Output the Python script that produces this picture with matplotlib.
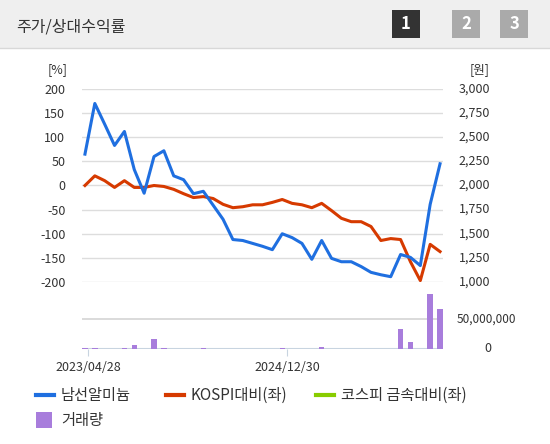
import matplotlib
matplotlib.use("Agg")
import matplotlib.pyplot as plt
import matplotlib.transforms as mtrans
from matplotlib.lines import Line2D
from matplotlib.patches import Rectangle
import numpy as np

plt.rcParams['font.family'] = ['Noto Sans CJK KR', 'DejaVu Sans']

stock = [65,170,127,83,112,33,-16,60,72,20,12,-17,-12,-41,-70,-112,-114,-120,-126,-133,
         -100,-108,-120,-153,-114,-151,-158,-158,-168,-180,-185,-189,-143,-149,-166,-39,45]
kospi = [0,20,10,-4,10,-4,-4,0,-2,-8,-17,-25,-23,-27,-39,-46,-44,-40,-40,-35,
         -29,-37,-40,-46,-37,-52,-68,-75,-75,-85,-114,-110,-112,-158,-197,-122,-137]
volume = [1.5e6,1.5e6,0,0,1.5e6,7e6,0,17e6,1.5e6,0,0,0,1.5e6,0,0,0,0,0,0,0,
          1.5e6,0,0,0,4e6,0,0,0,0,0,0,0,33e6,12e6,0,92e6,67e6]
tick_pos = [0.3, 20.5]
tick_labels = ['2023/04/28', '2024/12/30']
yl_ticks = [200,150,100,50,0,-50,-100,-150,-200]
yr_labels = ['3,000','2,750','2,500','2,250','2,000','1,750','1,500','1,250','1,000']

W, H = 550, 444
fig = plt.figure(figsize=(5.5, 4.44), dpi=100)
def fx(p): return p / W
def fy(p): return 1 - p / H

# header
fig.patches.append(Rectangle((0, fy(48)), 1, 48 / H, transform=fig.transFigure,
                             facecolor='#efefef', edgecolor='none'))
fig.add_artist(Line2D([0, 1], [fy(48), fy(48)], color='#d8d8d8', lw=1))
fig.text(fx(16), fy(27), '주가/상대수익률', fontsize=11.5, color='#333333', va='center')
for i, (x, c) in enumerate([(392, '#333333'), (452, '#aaaaaa'), (500, '#aaaaaa')]):
    fig.patches.append(Rectangle((fx(x), fy(38)), 28 / W, 28 / H, transform=fig.transFigure,
                                 facecolor=c, edgecolor='none'))
    fig.text(fx(x + 14), fy(24), str(i + 1), color='white', fontsize=12, fontweight='bold',
             ha='center', va='center')

x = np.arange(len(stock))
xl = (-0.3, len(stock) - 0.7)
# main axes
ax = fig.add_axes([fx(82), fy(282), (443 - 82) / W, (282 - 89) / H])
for v in yl_ticks:
    ax.axhline(v, color='#dddddd', lw=1, zorder=0)
ax.plot(x, stock, color='#1f6fe0', lw=2.2, zorder=3)
ax.plot(x, kospi, color='#d63a00', lw=2.2, zorder=2)
ax.set_ylim(-200, 200)
ax.set_xlim(*xl)
ax.set_yticks(yl_ticks)
ax.set_yticklabels([str(v) for v in yl_ticks], fontsize=9, color='#333333')
ax.tick_params(axis='y', length=0, pad=12)
ax.set_xticks([])
for s in ax.spines.values():
    s.set_visible(False)
for v, lab in zip(yl_ticks, yr_labels):
    ax.text(1.13, v, lab, transform=ax.get_yaxis_transform(), ha='right', va='center',
            fontsize=9, color='#333333')
fig.text(fx(58), fy(70), '[%]', fontsize=9, color='#333333', ha='center', va='center')
fig.text(fx(480), fy(70), '[원]', fontsize=9, color='#333333', ha='center', va='center')

# volume axes
vax = fig.add_axes([fx(82), fy(349), (443 - 82) / W, (349 - 290) / H])
vax.set_facecolor('none')
vax.plot(xl, [50e6, 50e6], color='#d4d4d4', lw=1.2, zorder=1)
vax.plot(xl, [0, 0], color='#c8d4e0', lw=1.5, zorder=1)
vax.bar(x, volume, width=0.55, color='#a87ddc', zorder=2)
vax.set_xlim(*xl)
vax.set_ylim(0, 50e6 * 59 / 30)
vax.set_yticks([])
vax.set_xticks(tick_pos)
vax.set_xticklabels(tick_labels, fontsize=9, color='#333333')
vax.tick_params(axis='x', length=5, color='#c8d4e0')
for s in vax.spines.values():
    s.set_visible(False)
tr = mtrans.blended_transform_factory(fig.transFigure, vax.transData)
vax.text(fx(457), 50e6, '50,000,000', transform=tr, ha='left', va='center',
         fontsize=8.5, color='#333333')
vax.text(fx(491), 0, '0', transform=tr, ha='right', va='center', fontsize=9, color='#333333')

# legend
for (x0, c, lab) in [(36, '#1f6fe0', '남선알미늄'), (166, '#d63a00', 'KOSPI대비(좌)'),
                     (316, '#88cc00', '코스피 금속대비(좌)')]:
    fig.add_artist(Line2D([fx(x0), fx(x0 + 18)], [fy(395), fy(395)], color=c, lw=3))
    fig.text(fx(x0 + 25), fy(395), lab, fontsize=11, color='#333333', va='center')
fig.patches.append(Rectangle((fx(36), fy(428)), 16 / W, 16 / H, transform=fig.transFigure,
                             facecolor='#a87ddc', edgecolor='none'))
fig.text(fx(61), fy(420), '거래량', fontsize=11, color='#333333', va='center')

fig.savefig('out.png', dpi=100)
